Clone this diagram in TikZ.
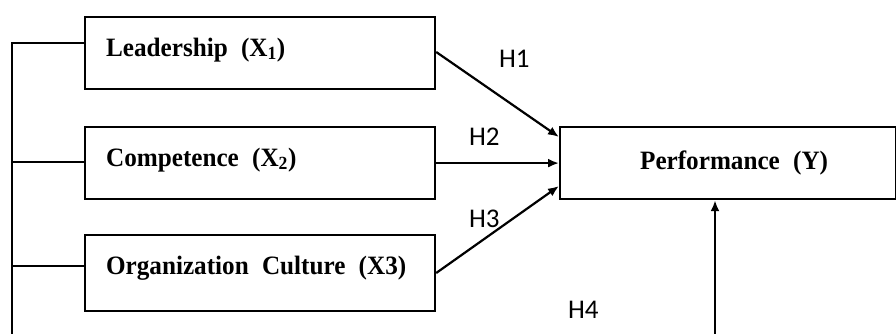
\documentclass[tikz,border=0pt]{standalone}
\usepackage{fontspec}
\setmainfont{Liberation Serif}
\newfontfamily\boxfont[FakeStretch=0.95]{Liberation Serif}
\newfontfamily\lblfont{Carlito}
\usetikzlibrary{arrows.meta,calc}
\newcommand\wgap{\hspace{0.5em}}
\begin{document}
\begin{tikzpicture}[x=1pt,y=-1pt,
  line width=2.2pt,
  box/.style={draw,line width=2.2pt,anchor=north west,inner ysep=0pt,inner xsep=21pt,
    minimum width=350pt,minimum height=72pt,text width=308pt,align=left,
    text height=18pt,text depth=12pt,
    font=\boxfont\fontsize{26.5}{30}\selectfont\bfseries},
  ybox/.style={draw,line width=2.2pt,anchor=north west,inner sep=0pt,
    minimum width=336pt,minimum height=72pt,
    font=\boxfont\fontsize{26.5}{30}\selectfont\bfseries},
  hlabel/.style={anchor=base west,inner sep=0pt,font=\lblfont\fontsize{27}{32}\selectfont},
  arr/.style={-{Latex[length=11pt,width=9pt]},line width=2.2pt}]
\useasboundingbox (0,0) rectangle (896,334);

\node[box] (b1) at (84,16) {Leadership\wgap(X\textsubscript{1})};
\node[box] (b2) at (84,126) {Competence\wgap(X\textsubscript{2})};
\node[box,minimum height=76pt,text depth=16pt] (b3) at (84,234) {Organization\wgap Culture\wgap(X3)};
\node[ybox] (y) at (559,126) {\hspace{12pt}Performance\wgap(Y)};

% left bus
\coordinate (top) at (12,43);
\coordinate (bot) at (12,334);
\coordinate (t2) at (11,162);
\coordinate (t3) at (11,266);
\draw (bot) -- (top) -- (top -| b1.west);
\draw (t2) -- (t2 -| b2.west);
\draw (t3) -- (t3 -| b3.west);

% hypothesis arrows
\coordinate (s1) at (434,52);
\coordinate (e1) at (559,137);
\coordinate (s3) at (434,273);
\coordinate (e3) at (559,186);
\draw[arr] (s1 -| b1.east) -- (e1 -| y.west);
\draw[arr] (b2.east) -- (y.west);
\draw[arr] (s3 -| b3.east) -- (e3 -| y.west);

\coordinate (h4s) at (715,334);
\draw[arr] (h4s) -- (h4s |- y.south);

\node[hlabel] (l1) at (498,68) {H1};
\node[hlabel] (l2) at (468,145) {H2};
\node[hlabel] (l3) at (468,227) {H3};
\node[hlabel] (l4) at (567,318) {H4};
\end{tikzpicture}
\end{document}
